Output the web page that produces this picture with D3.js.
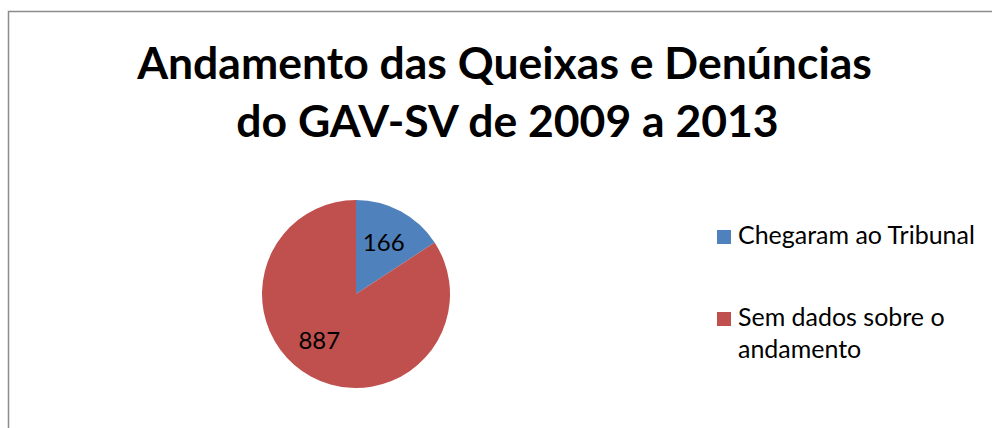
<!DOCTYPE html>
<html><head><meta charset="utf-8">
<script src="https://cdn.jsdelivr.net/npm/d3@7"></script>
<style>html,body{margin:0;padding:0;background:#fff;}svg{display:block;}</style>
</head><body>
<script>
const categories = ["Chegaram ao Tribunal", "Sem dados sobre o andamento"];
const values = [166, 887];
const colors = ["#4F81BD", "#C0504D"];
const titleLines = ["Andamento das Queixas e Denúncias", "do GAV-SV de 2009 a 2013"];
const legendLines = [["Chegaram ao Tribunal"], ["Sem dados sobre o", "andamento"]];

const W = 992, H = 428;
const FONT = "Lato, 'Open Sans', sans-serif";
const svg = d3.select("body").append("svg").attr("width", W).attr("height", H);

// chart border (extends past right/bottom edges)
svg.append("rect").attr("x", 8.5).attr("y", 11.5).attr("width", 1100).attr("height", 600)
  .attr("fill", "#fff").attr("stroke", "#8c8c8c").attr("stroke-width", 1.5);

function fitText(sel, target) {
  const w = sel.node().getComputedTextLength();
  const fs = parseFloat(sel.attr("font-size"));
  sel.attr("font-size", fs * target / w);
}

// title
const t1 = svg.append("text").attr("x", 504.5).attr("y", 79).attr("text-anchor", "middle")
  .attr("font-family", FONT).attr("font-weight", "bold").attr("font-size", 40).attr("fill", "#000")
  .text(titleLines[0]);
fitText(t1, 735);
svg.append("text").attr("x", 507.5).attr("y", 137).attr("text-anchor", "middle")
  .attr("font-family", FONT).attr("font-weight", "bold").attr("font-size", t1.attr("font-size")).attr("fill", "#000")
  .text(titleLines[1]);

// pie
const cx = 356, cy = 294, r = 94;
const pie = d3.pie().sort(null).value(d => d)(values);
const arc = d3.arc().innerRadius(0).outerRadius(r);
const labelArc = d3.arc().innerRadius(r * 0.62).outerRadius(r * 0.62);
const labelNudge = [[0, 0], [-9, -5]];
const g = svg.append("g").attr("transform", `translate(${cx},${cy})`);
g.selectAll("path").data(pie).join("path")
  .attr("d", arc).attr("fill", (d, i) => colors[i]);
g.selectAll("text").data(pie).join("text")
  .attr("transform", (d, i) => { const c = labelArc.centroid(d); return `translate(${c[0] + labelNudge[i][0]},${c[1] + labelNudge[i][1]})`; })
  .attr("text-anchor", "middle").attr("dy", "0.36em")
  .attr("font-family", FONT).attr("font-size", 24).attr("fill", "#000")
  .text(d => d.data);

// legend: first-line baselines
const legY = d3.scaleOrdinal().domain(categories).range([244, 326]);
const lg = svg.append("g");
categories.forEach((c, i) => {
  const y = legY(c);
  lg.append("rect").attr("x", 717).attr("y", y - 14).attr("width", 14).attr("height", 14).attr("fill", colors[i]);
  const tx = lg.append("text").attr("x", 738).attr("y", y)
    .attr("font-family", FONT).attr("font-size", 22).attr("fill", "#000");
  legendLines[i].forEach((ln, j) => {
    tx.append("tspan").attr("x", 738).attr("dy", j === 0 ? 0 : 32).text(ln);
  });
});
// fit legend size to first entry width
const first = lg.select("text");
const wl = first.node().getComputedTextLength();
lg.selectAll("text").attr("font-size", 22 * 237 / wl);
</script>
</body></html>
